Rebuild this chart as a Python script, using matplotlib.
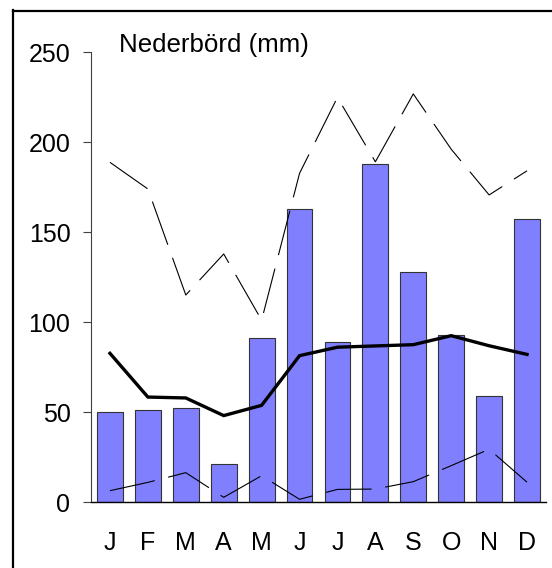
import matplotlib
matplotlib.use("Agg")
import matplotlib.pyplot as plt
from matplotlib.lines import Line2D

months = ["J", "F", "M", "A", "M", "J", "J", "A", "S", "O", "N", "D"]
precip_year = [50, 51, 52, 21, 91, 163, 89, 188, 128, 93, 59, 157]
precip_mean = [82.6, 58.3, 57.8, 48, 53.7, 81.3, 86, 86.7, 87.4, 92.4, 86.8, 82]
precip_max = [188.7, 173.9, 115, 137.8, 101, 182.6, 224.8, 189, 226.7, 196, 170.6, 184]
precip_min = [6.3, 10.9, 16.3, 2.6, 14.6, 1.5, 7, 7.2, 11.3, 20.2, 29.3, 11]
yticks = [0, 50, 100, 150, 200, 250]
title = "Nederbörd (mm)"

plt.rcParams['font.family'] = ['Liberation Sans', 'DejaVu Sans']
plt.rcParams['lines.scale_dashes'] = False

W, H = 552, 568
fig = plt.figure(figsize=(W / 100, H / 100), dpi=100)
ax = fig.add_axes([91 / W, 66 / H, (546 - 91) / W, (502 - 52) / H])

x = list(range(len(months)))
ax.bar(x, precip_year, width=0.68, color="#8080FF", edgecolor="#333333", linewidth=0.8, zorder=2)
ax.plot(x, precip_mean, color="black", linewidth=2.4, zorder=3, solid_joinstyle="miter")
ax.plot(x, precip_max, color="black", linewidth=0.8, dashes=(33, 10), zorder=3)
ax.plot(x, precip_min, color="black", linewidth=0.8, dashes=(33, 10), zorder=3)

ax.set_xlim(-0.5, len(months) - 0.5)
ax.set_ylim(0, 250)
ax.set_yticks(yticks)
ax.set_xticks(x)
ax.set_xticklabels(months)
ax.tick_params(axis="y", length=5.8, width=0.8, color="#404040", pad=9, labelsize=18)
ax.tick_params(axis="x", length=0, pad=21, labelsize=18)
for s in ["top", "right"]:
    ax.spines[s].set_visible(False)
ax.spines["left"].set_color("#404040")
ax.spines["left"].set_linewidth(0.8)
ax.spines["bottom"].set_color("black")
ax.spines["bottom"].set_linewidth(1.0)

fig.text(119 / W, 1 - 52 / H, title, fontsize=18.6, va="baseline", ha="left")

# outer frame (cut off at right and bottom)
fig.add_artist(Line2D([12.5 / W, 12.5 / W], [1 - 10 / H, -0.05], color="black", linewidth=1.6,
                      transform=fig.transFigure))
fig.add_artist(Line2D([12.5 / W, 1.05], [1 - 10.5 / H, 1 - 10.5 / H], color="black", linewidth=1.6,
                      transform=fig.transFigure))

fig.savefig("out.png", dpi=100)
